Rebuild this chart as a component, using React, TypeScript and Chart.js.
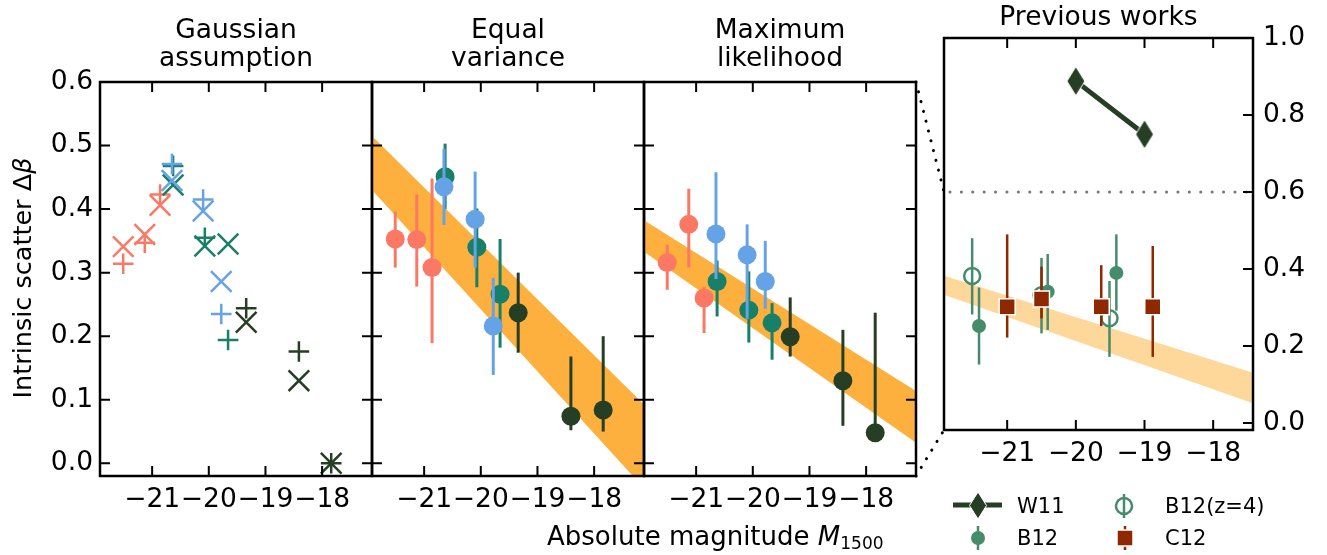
import React, { useEffect, useRef } from 'react';
import { Chart, registerables } from 'chart.js';

Chart.register(...registerables);

const FONT = "'DejaVu Sans', sans-serif";
const W = 1327;
const H = 555;

// ---------- data ----------
// absolute magnitude bins per colour group
const MAG_SALMON = [-21.51, -21.13, -20.86];
const MAG_BLUE = [-20.65, -20.1, -19.78];
const MAG_TEAL = [-20.63, -20.07, -19.66];
const MAG_DARK = [-19.34, -18.41, -17.84];

// Gaussian assumption: '+' and 'x' estimates
const GA_PLUS_SALMON = [0.314, 0.347, 0.423];
const GA_X_SALMON = [0.341, 0.36, 0.406];
const GA_PLUS_BLUE = [0.471, 0.415, 0.235];
const GA_X_BLUE = [0.445, 0.397, 0.286];
const GA_PLUS_TEAL = [0.468, 0.355, 0.194];
const GA_X_TEAL = [0.438, 0.342, 0.345];
const GA_PLUS_DARK = [0.244, 0.176, 0.0];
const GA_X_DARK = [0.222, 0.13, 0.0];

// Equal variance
const EV_SALMON = [0.353, 0.352, 0.308];
const EV_SALMON_LO = [0.308, 0.278, 0.189];
const EV_SALMON_HI = [0.396, 0.423, 0.448];
const EV_BLUE = [0.435, 0.384, 0.216];
const EV_BLUE_LO = [0.375, 0.308, 0.139];
const EV_BLUE_HI = [0.495, 0.459, 0.292];
const EV_TEAL = [0.451, 0.34, 0.266];
const EV_TEAL_LO = [0.4, 0.277, 0.182];
const EV_TEAL_HI = [0.503, 0.401, 0.353];
const EV_DARK = [0.237, 0.074, 0.084];
const EV_DARK_LO = [0.174, 0.052, 0.05];
const EV_DARK_HI = [0.3, 0.168, 0.2];
const EV_BAND_MAG = [-22, -17];
const EV_BAND_UP = [0.522, 0.082];
const EV_BAND_DOWN = [0.438, -0.051];

// Maximum likelihood
const ML_SALMON = [0.316, 0.376, 0.26];
const ML_SALMON_LO = [0.273, 0.308, 0.205];
const ML_SALMON_HI = [0.344, 0.432, 0.278];
const ML_BLUE = [0.361, 0.328, 0.286];
const ML_BLUE_LO = [0.29, 0.227, 0.243];
const ML_BLUE_HI = [0.458, 0.376, 0.35];
const ML_TEAL = [0.286, 0.241, 0.221];
const ML_TEAL_LO = [0.231, 0.19, 0.163];
const ML_TEAL_HI = [0.319, 0.302, 0.252];
const ML_DARK = [0.199, 0.13, 0.048];
const ML_DARK_LO = [0.168, 0.059, 0.045];
const ML_DARK_HI = [0.261, 0.21, 0.237];
const ML_BAND_MAG = [-22, -17];
const ML_BAND_UP = [0.387, 0.107];
const ML_BAND_DOWN = [0.338, 0.025];

// Previous works
const W11_MAG = [-20, -19];
const W11_VAL = [0.888, 0.75];
const B12_MAG = [-21.41, -20.41, -19.41];
const B12_VAL = [0.252, 0.341, 0.39];
const B12_LO = [0.152, 0.242, 0.292];
const B12_HI = [0.352, 0.439, 0.49];
const B12Z4_MAG = [-21.51, -20.5, -19.51];
const B12Z4_VAL = [0.382, 0.332, 0.272];
const B12Z4_LO = [0.282, 0.233, 0.172];
const B12Z4_HI = [0.48, 0.429, 0.369];
const C12_MAG = [-21.0, -20.5, -19.63, -18.88];
const C12_VAL = [0.302, 0.322, 0.302, 0.302];
const C12_LO = [0.222, 0.272, 0.252, 0.172];
const C12_HI = [0.49, 0.406, 0.41, 0.46];
const REF_MAG = [-22, -17];
const REF_LEVEL = [0.6, 0.6];

// ticks
const X_TICKS = [-21, -20, -19, -18];
const Y_TICKS = [0, 0.1, 0.2, 0.3, 0.4, 0.5, 0.6];
const Y_TICKS_PREV = [0, 0.2, 0.4, 0.6, 0.8, 1.0];

const TITLES = [['Gaussian', 'assumption'], ['Equal', 'variance'], ['Maximum', 'likelihood'], ['Previous works']];

// ---------- styles ----------
const C_SALMON = '#fb7964';
const C_BLUE = '#66a3e6';
const C_TEAL = '#187f68';
const C_DARK = '#263f24';
const C_BAND = '#fdb03d';
const C_BAND_LIGHT = 'rgba(253,175,55,0.5)';
const C_B12 = '#468b6b';
const C_C12 = '#8e2800';
const TICK_FONT = 26.5;

const AREAS = [
  { l: 100, r: 372, t: 82, b: 476 },
  { l: 372, r: 644, t: 82, b: 476 },
  { l: 644, r: 916, t: 82, b: 476 },
  { l: 944, r: 1253, t: 38, b: 430 },
];

const pts = (xs: number[], ys: number[]) => xs.map((x, i) => ({ x, y: ys[i] }));
const fmtMag = (v: number) => (v < 0 ? '\u2212' : '') + Math.abs(v).toString();

function markerDs(xs: number[], ys: number[], color: string, style: string, radius: number) {
  return {
    data: pts(xs, ys),
    showLine: false,
    pointStyle: style,
    pointRadius: radius,
    pointBorderColor: color,
    pointBackgroundColor: color,
    pointBorderWidth: 2.5,
    borderColor: color,
    backgroundColor: color,
  };
}

function errDs(xs: number[], ys: number[], lo: number[], hi: number[], color: string, radius = 9.5) {
  return {
    data: pts(xs, ys),
    showLine: false,
    pointStyle: 'circle',
    pointRadius: radius,
    pointBorderWidth: 0,
    pointBorderColor: color,
    pointBackgroundColor: color,
    borderColor: color,
    backgroundColor: color,
    errLo: lo,
    errHi: hi,
    errColor: color,
    errWidth: 3,
  };
}

function bandDs(xs: number[], up: number[], down: number[], color: string) {
  return [
    {
      data: pts(xs, up),
      showLine: true,
      borderWidth: 0,
      borderColor: 'rgba(0,0,0,0)',
      pointRadius: 0,
      fill: '+1',
      backgroundColor: color,
    },
    {
      data: pts(xs, down),
      showLine: true,
      borderWidth: 0,
      borderColor: 'rgba(0,0,0,0)',
      pointRadius: 0,
      fill: false,
    },
  ];
}

const errorBarPlugin = {
  id: 'errbars',
  beforeDatasetDraw(chart: any, args: any) {
    const ds: any = chart.data.datasets[args.index];
    if (!ds.errLo) return;
    const { ctx, chartArea: a } = chart;
    const ys = chart.scales.y;
    ctx.save();
    ctx.beginPath();
    ctx.rect(a.left, a.top, a.right - a.left, a.bottom - a.top);
    ctx.clip();
    ctx.strokeStyle = ds.errColor;
    ctx.lineWidth = ds.errWidth || 3;
    ctx.lineCap = 'butt';
    args.meta.data.forEach((el: any, i: number) => {
      ctx.beginPath();
      ctx.moveTo(el.x, ys.getPixelForValue(ds.errLo[i]));
      ctx.lineTo(el.x, ys.getPixelForValue(ds.errHi[i]));
      ctx.stroke();
    });
    ctx.restore();
  },
};

type PanelCfg = {
  area: { l: number; r: number; t: number; b: number };
  xMin: number;
  xMax: number;
  yMin: number;
  yMax: number;
  yTicks: number[];
  yLabelSide: 'left' | 'right' | null;
  yTickSides: ('left' | 'right')[];
  datasets: any[];
  extraPlugins?: any[];
};

function makeChart(canvas: HTMLCanvasElement, cfg: PanelCfg) {
  const YW = 60;
  const XH = 50;
  const shown = cfg.yLabelSide !== null;
  const padLeft = cfg.area.l - (cfg.yLabelSide === 'left' ? YW : 0);
  const padRight = W - cfg.area.r - (cfg.yLabelSide === 'right' ? YW : 0);
  const padBottom = H - cfg.area.b - XH;
  const n = cfg.datasets.length;
  const datasets = cfg.datasets.map((d, i) => ({ order: n - i, ...d }));
  const frame = {
    id: 'frame',
    afterDraw(chart: any) {
      const { ctx, chartArea: a } = chart;
      const xs = chart.scales.x;
      const ys = chart.scales.y;
      const TL = 10;
      ctx.save();
      ctx.strokeStyle = '#000';
      ctx.lineWidth = 2;
      ctx.beginPath();
      X_TICKS.forEach((v) => {
        const px = xs.getPixelForValue(v);
        ctx.moveTo(px, a.bottom);
        ctx.lineTo(px, a.bottom - TL);
        ctx.moveTo(px, a.top);
        ctx.lineTo(px, a.top + TL);
      });
      cfg.yTicks.forEach((v) => {
        const py = ys.getPixelForValue(v);
        if (cfg.yTickSides.includes('left')) {
          ctx.moveTo(a.left, py);
          ctx.lineTo(a.left + TL, py);
        }
        if (cfg.yTickSides.includes('right')) {
          ctx.moveTo(a.right, py);
          ctx.lineTo(a.right - TL, py);
        }
      });
      ctx.stroke();
      ctx.lineWidth = 2.5;
      ctx.strokeRect(a.left, a.top, a.right - a.left, a.bottom - a.top);
      ctx.restore();
    },
  };
  return new Chart(canvas, {
    type: 'line',
    data: { datasets },
    options: {
      responsive: false,
      animation: false,
      events: [],
      layout: { padding: { left: padLeft, right: padRight, top: cfg.area.t, bottom: padBottom } },
      plugins: { legend: { display: false }, tooltip: { enabled: false }, title: { display: false } },
      scales: {
        x: {
          type: 'linear',
          min: cfg.xMin,
          max: cfg.xMax,
          position: 'bottom',
          grid: { display: false, drawTicks: false },
          border: { display: false },
          afterBuildTicks: (s: any) => {
            s.ticks = X_TICKS.map((v) => ({ value: v }));
          },
          afterFit: (s: any) => {
            s.height = XH;
          },
          ticks: {
            font: { family: FONT, size: TICK_FONT },
            color: '#000',
            padding: 8,
            autoSkip: false,
            maxRotation: 0,
            minRotation: 0,
            callback: (v: any) => fmtMag(Number(v)),
          },
        },
        y: {
          type: 'linear',
          min: cfg.yMin,
          max: cfg.yMax,
          position: cfg.yLabelSide || 'left',
          display: shown,
          grid: { display: false, drawTicks: false },
          border: { display: false },
          afterBuildTicks: (s: any) => {
            s.ticks = cfg.yTicks.map((v) => ({ value: v }));
          },
          afterFit: (s: any) => {
            s.width = shown ? YW : 0;
          },
          ticks: {
            font: { family: FONT, size: TICK_FONT },
            color: '#000',
            padding: cfg.yLabelSide === 'right' ? 10 : 7,
            autoSkip: false,
            callback: (v: any) => Number(v).toFixed(1),
          },
        },
      },
    } as any,
    plugins: [errorBarPlugin, frame, ...(cfg.extraPlugins || [])],
  });
}

export default function App() {
  const r1 = useRef<HTMLCanvasElement>(null);
  const r2 = useRef<HTMLCanvasElement>(null);
  const r3 = useRef<HTMLCanvasElement>(null);
  const r4 = useRef<HTMLCanvasElement>(null);

  useEffect(() => {
    Chart.defaults.font.family = FONT;
    const charts: Chart[] = [];
    const common = { xMin: -21.92, xMax: -17.12, yMin: -0.02, yMax: 0.6, yTicks: Y_TICKS };

    charts.push(
      makeChart(r1.current!, {
        ...common,
        area: AREAS[0],
        yLabelSide: 'left',
        yTickSides: ['left', 'right'],
        datasets: [
          markerDs(MAG_SALMON, GA_PLUS_SALMON, C_SALMON, 'cross', 10.3),
          markerDs(MAG_SALMON, GA_X_SALMON, C_SALMON, 'crossRot', 14.6),
          markerDs(MAG_TEAL, GA_PLUS_TEAL, C_TEAL, 'cross', 10.3),
          markerDs(MAG_TEAL, GA_X_TEAL, C_TEAL, 'crossRot', 14.6),
          markerDs(MAG_BLUE, GA_PLUS_BLUE, C_BLUE, 'cross', 10.3),
          markerDs(MAG_BLUE, GA_X_BLUE, C_BLUE, 'crossRot', 14.6),
          markerDs(MAG_DARK, GA_PLUS_DARK, C_DARK, 'cross', 10.3),
          markerDs(MAG_DARK, GA_X_DARK, C_DARK, 'crossRot', 14.6),
        ],
      })
    );

    charts.push(
      makeChart(r2.current!, {
        ...common,
        area: AREAS[1],
        yLabelSide: null,
        yTickSides: ['left', 'right'],
        datasets: [
          ...bandDs(EV_BAND_MAG, EV_BAND_UP, EV_BAND_DOWN, C_BAND),
          errDs(MAG_SALMON, EV_SALMON, EV_SALMON_LO, EV_SALMON_HI, C_SALMON),
          errDs(MAG_TEAL, EV_TEAL, EV_TEAL_LO, EV_TEAL_HI, C_TEAL),
          errDs(MAG_BLUE, EV_BLUE, EV_BLUE_LO, EV_BLUE_HI, C_BLUE),
          errDs(MAG_DARK, EV_DARK, EV_DARK_LO, EV_DARK_HI, C_DARK),
        ],
      })
    );

    const chart3 = makeChart(r3.current!, {
      ...common,
      area: AREAS[2],
      yLabelSide: null,
      yTickSides: ['left', 'right'],
      datasets: [
        ...bandDs(ML_BAND_MAG, ML_BAND_UP, ML_BAND_DOWN, C_BAND),
        errDs(MAG_SALMON, ML_SALMON, ML_SALMON_LO, ML_SALMON_HI, C_SALMON),
        errDs(MAG_TEAL, ML_TEAL, ML_TEAL_LO, ML_TEAL_HI, C_TEAL),
        errDs(MAG_BLUE, ML_BLUE, ML_BLUE_LO, ML_BLUE_HI, C_BLUE),
        errDs(MAG_DARK, ML_DARK, ML_DARK_LO, ML_DARK_HI, C_DARK),
      ],
    });
    charts.push(chart3);

    // thin diamond marker for W11
    const dia = document.createElement('canvas');
    dia.width = 22;
    dia.height = 32;
    const dc = dia.getContext('2d')!;
    dc.beginPath();
    dc.moveTo(11, 1.5);
    dc.lineTo(20, 16);
    dc.lineTo(11, 30.5);
    dc.lineTo(2, 16);
    dc.closePath();
    dc.fillStyle = C_DARK;
    dc.fill();
    dc.strokeStyle = '#fff';
    dc.lineWidth = 1;
    dc.stroke();

    const connectors = {
      id: 'connectors',
      afterDraw(chart: any) {
        const a3 = chart3.chartArea;
        const a4 = chart.chartArea;
        const y3 = chart3.scales.y;
        const y4 = chart.scales.y;
        const ctx = chart.ctx;
        ctx.save();
        ctx.setLineDash([0.1, 10]);
        ctx.lineCap = 'round';
        ctx.lineWidth = 3;
        ctx.strokeStyle = '#000';
        ctx.beginPath();
        ctx.moveTo(a3.right, y3.getPixelForValue(REF_LEVEL[0]));
        ctx.lineTo(a4.left, y4.getPixelForValue(REF_LEVEL[0]));
        ctx.moveTo(a3.right, a3.bottom);
        ctx.lineTo(a4.left, a4.bottom);
        ctx.stroke();
        ctx.restore();
      },
    };

    charts.push(
      makeChart(r4.current!, {
        xMin: -21.92,
        xMax: -17.42,
        yMin: -0.018,
        yMax: 1.0,
        yTicks: Y_TICKS_PREV,
        area: AREAS[3],
        yLabelSide: 'right',
        yTickSides: ['right'],
        extraPlugins: [connectors],
        datasets: [
          ...bandDs(ML_BAND_MAG, ML_BAND_UP, ML_BAND_DOWN, C_BAND_LIGHT),
          {
            data: pts(REF_MAG, REF_LEVEL),
            showLine: true,
            borderColor: '#777',
            borderWidth: 3,
            borderDash: [0.1, 11.3],
            borderCapStyle: 'round',
            pointRadius: 0,
            fill: false,
          },
          {
            data: pts(B12Z4_MAG, B12Z4_VAL),
            showLine: false,
            pointStyle: 'circle',
            pointRadius: 8,
            pointBorderWidth: 2.5,
            pointBorderColor: C_B12,
            pointBackgroundColor: 'rgba(0,0,0,0)',
            borderColor: C_B12,
            errLo: B12Z4_LO,
            errHi: B12Z4_HI,
            errColor: C_B12,
            errWidth: 2.5,
          },
          { ...errDs(B12_MAG, B12_VAL, B12_LO, B12_HI, C_B12, 7), errWidth: 2.5 },
          {
            data: pts(C12_MAG, C12_VAL),
            showLine: false,
            pointStyle: 'rect',
            pointRadius: 11.3,
            pointBorderWidth: 1.5,
            pointBorderColor: '#fff',
            pointBackgroundColor: C_C12,
            borderColor: C_C12,
            errLo: C12_LO,
            errHi: C12_HI,
            errColor: C_C12,
            errWidth: 2.5,
          },
          {
            data: pts(W11_MAG, W11_VAL),
            showLine: true,
            borderColor: C_DARK,
            borderWidth: 5,
            pointStyle: dia,
            pointRadius: 14,
            fill: false,
          },
        ],
      })
    );

    return () => charts.forEach((c) => c.destroy());
  }, []);

  const canvasStyle: React.CSSProperties = { position: 'absolute', left: 0, top: 0 };
  const legendText: React.CSSProperties = {
    position: 'absolute',
    fontSize: 21,
    lineHeight: '21px',
    whiteSpace: 'nowrap',
  };

  return (
    <div
      style={{
        position: 'absolute',
        left: 0,
        top: 0,
        width: W,
        height: H,
        overflow: 'hidden',
        background: '#fff',
        fontFamily: FONT,
        color: '#000',
      }}
    >
      <canvas ref={r1} width={W} height={H} style={canvasStyle} />
      <canvas ref={r2} width={W} height={H} style={canvasStyle} />
      <canvas ref={r3} width={W} height={H} style={canvasStyle} />
      <canvas ref={r4} width={W} height={H} style={canvasStyle} />

      {TITLES.map((lines, i) => {
        const a = AREAS[i];
        const cx = (a.l + a.r) / 2;
        return (
          <div
            key={i}
            style={{
              position: 'absolute',
              left: cx - 160,
              width: 320,
              top: lines.length > 1 ? 14.5 : 1.5,
              textAlign: 'center',
              fontSize: 26.5,
              lineHeight: '28.5px',
              whiteSpace: 'pre',
            }}
          >
            {lines.join('\n')}
          </div>
        );
      })}

      <div
        style={{
          position: 'absolute',
          left: 21.5 - 200,
          top: 278 - 15,
          width: 400,
          height: 30,
          lineHeight: '30px',
          fontSize: 25.5,
          textAlign: 'center',
          whiteSpace: 'nowrap',
          transform: 'rotate(-90deg)',
          transformOrigin: 'center center',
        }}
      >
        Intrinsic scatter Δ<i>β</i>
      </div>

      <div
        style={{
          position: 'absolute',
          left: 547,
          top: 523,
          fontSize: 26,
          lineHeight: '26px',
          whiteSpace: 'nowrap',
        }}
      >
        Absolute magnitude <i>M</i>
        <span style={{ fontSize: 17, position: 'relative', top: 4 }}>1500</span>
      </div>

      <svg width={W} height={H} style={{ position: 'absolute', left: 0, top: 0, pointerEvents: 'none' }}>
        <line x1={953} y1={505} x2={1002} y2={505} stroke={C_DARK} strokeWidth={5} />
        <polygon points="978,492 986.5,505.5 978,519 969.5,505.5" fill={C_DARK} stroke="#fff" strokeWidth={1} />
        <line x1={978} y1={526} x2={978} y2={550} stroke={C_B12} strokeWidth={2.5} />
        <circle cx={978} cy={538} r={7} fill={C_B12} />
        <line x1={1124} y1={494} x2={1124} y2={518} stroke={C_B12} strokeWidth={2.5} />
        <circle cx={1124} cy={506} r={8} fill="none" stroke={C_B12} strokeWidth={2.5} />
        <line x1={1125} y1={526} x2={1125} y2={550} stroke={C_C12} strokeWidth={2.5} />
        <rect x={1117} y={530} width={16} height={16} fill={C_C12} stroke="#fff" strokeWidth={1.5} />
      </svg>
      <div style={{ ...legendText, left: 1017, top: 496 }}>W11</div>
      <div style={{ ...legendText, left: 1017, top: 528 }}>B12</div>
      <div style={{ ...legendText, left: 1165, top: 496 }}>B12(z=4)</div>
      <div style={{ ...legendText, left: 1165, top: 528 }}>C12</div>
    </div>
  );
}
